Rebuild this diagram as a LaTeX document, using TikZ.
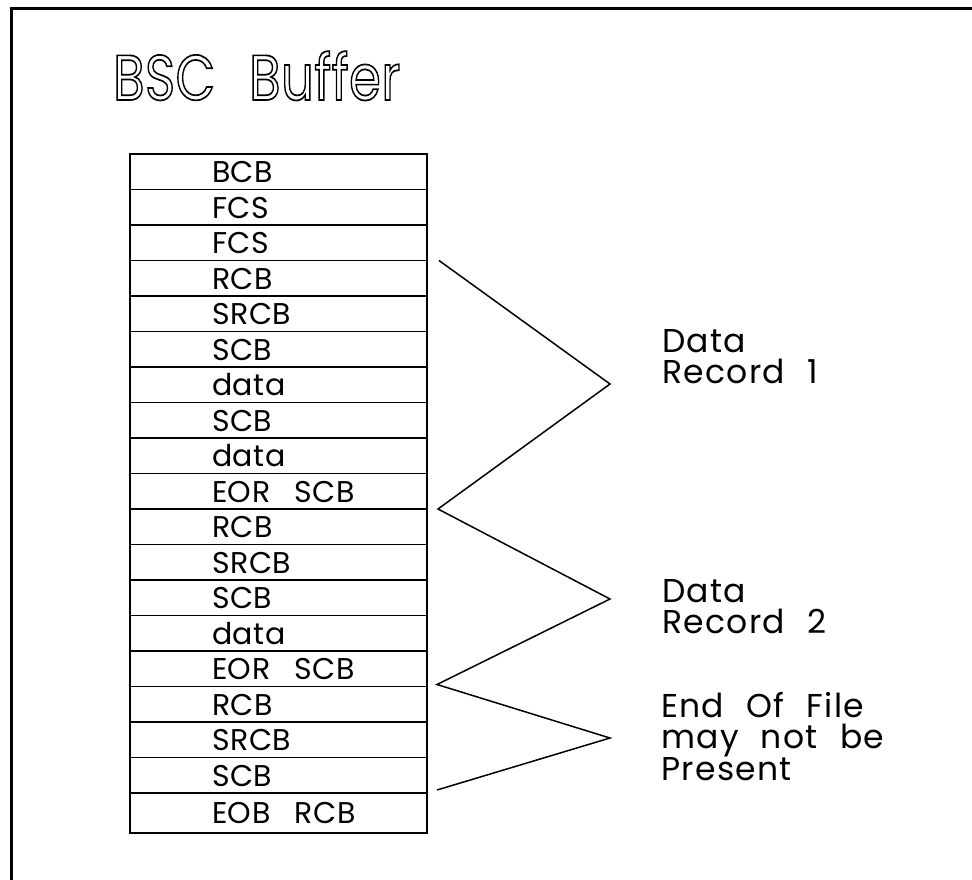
\documentclass[tikz,border=0pt]{standalone}
\usepackage{fontspec}
\setmainfont{Poppins}
\newfontfamily\tblfont{Poppins}[LetterSpace=2]
\newfontfamily\lblfont{Poppins}[LetterSpace=4, WordSpace=2.2]
\newfontfamily\ttlfont{Poppins}[LetterSpace=1, WordSpace=2.4]
\tikzset{
  rowbox/.style={draw, line width=1.5pt, anchor=north west, outer sep=0pt, inner xsep=0pt, inner ysep=0pt,
    text width=297pt, align=left, text height=28.5pt, text depth=7pt,
    font=\tblfont\fontsize{30}{32}\selectfont},
  lastbox/.style={rowbox, text height=30pt, text depth=10pt},
  zig/.style={line width=1.5pt, line join=miter},
  lbl/.style={anchor=base west, inner sep=0pt, font=\lblfont\fontsize{33}{35}\selectfont},
  frame/.style={line width=3pt}
}
\newcommand\rowtext[1]{\spaceskip=0.8em\relax\hspace*{82pt}#1}
\begin{document}
\begin{tikzpicture}[x=1pt,y=-1pt]
\useasboundingbox (0,0) rectangle (972,879);
\draw[frame] (11,900) |- (1000,8);
\node[anchor=base west, inner sep=0pt] (title) at (113,100)
  {\scalebox{0.8}[1]{\ttlfont\fontsize{64}{66}\selectfont\special{pdf:literal direct 1 Tr 1.7 w}BSC Buffer\special{pdf:literal direct 0 Tr}}};
\node[rowbox] (r0) at (130,154) {\rowtext{BCB}};
\foreach \t [count=\i from 1, remember=\i as \j (initially 0)] in
  {FCS,FCS,RCB,SRCB,SCB,data,SCB,data,EOR SCB,RCB,SRCB,SCB,data,EOR SCB,RCB,SRCB,SCB}
  {\node[rowbox] (r\i) at (r\j.south west) {\rowtext{\t}};}
\node[lastbox] (r18) at (r17.south west) {\rowtext{EOB RCB}};
\coordinate (a1) at (610,384);
\coordinate (a2) at (610,599);
\coordinate (a3) at (610,738);
\draw[zig] ([xshift=12pt]r3.north east) -- (a1) -- ([xshift=11pt]r10.north east) -- (a2)
  -- ([xshift=10pt,yshift=2pt]r15.north east) -- (a3) -- ([xshift=10pt,yshift=3pt]r18.north east);
\node[lbl] (d1a) at (662,352) {Data};
\node[lbl] (d1b) at (662,383) {Record 1};
\node[lbl] (d2a) at (662,602) {Data};
\node[lbl] (d2b) at (662,633) {Record 2};
\node[lbl] (e1) at (661,717) {End Of File};
\node[lbl] (e2) at (661,748) {may not be};
\node[lbl] (e3) at (661,780) {Present};
\end{tikzpicture}
\end{document}
